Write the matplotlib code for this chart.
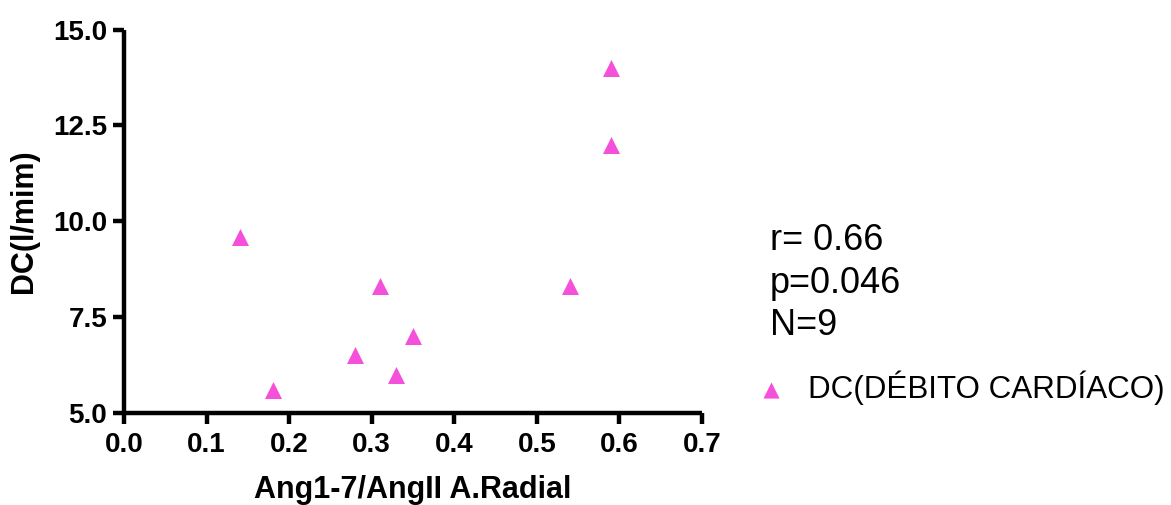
import matplotlib.pyplot as plt

# values
ratio = [0.14, 0.18, 0.28, 0.31, 0.33, 0.35, 0.54, 0.59, 0.59]
dc = [9.6, 5.6, 6.5, 8.3, 6.0, 7.0, 8.3, 12.0, 14.0]
x_ticks = [0.0, 0.1, 0.2, 0.3, 0.4, 0.5, 0.6, 0.7]
y_ticks = [5.0, 7.5, 10.0, 12.5, 15.0]
stats_text = "r= 0.66\np=0.046\nN=9"
series_name = "DC(DÉBITO CARDÍACO)"

pink = "#F550DA"
plt.rcParams["font.family"] = ["Liberation Sans", "DejaVu Sans"]

fig = plt.figure(figsize=(11.71, 5.05), dpi=100)
ax = fig.add_axes([124 / 1171, 1 - 413 / 505, (702 - 124) / 1171, (413 - 29.5) / 505])

ax.scatter(ratio, dc, marker="^", s=150, color=pink, linewidths=0, label=series_name,
           clip_on=False, zorder=3)

ax.set_xlim(0.0, 0.7)
ax.set_ylim(5.0, 15.0)
ax.set_xticks(x_ticks)
ax.set_yticks(y_ticks)
ax.set_xticklabels([f"{v:.1f}" for v in x_ticks], fontsize=20, fontweight="bold")
ax.set_yticklabels([f"{v:.1f}" for v in y_ticks], fontsize=20, fontweight="bold")
ax.tick_params(width=3.2, length=8, pad=4)
ax.tick_params(axis="x", pad=6)

for side in ["top", "right"]:
    ax.spines[side].set_visible(False)
for side in ["left", "bottom"]:
    ax.spines[side].set_linewidth(3.2)
    ax.spines[side].set_capstyle("butt")

ax.set_xlabel("Ang1-7/AngII A.Radial", fontsize=22, fontweight="bold", labelpad=12)
ax.set_ylabel("DC(l/mim)", fontsize=22, fontweight="bold", labelpad=10)

fig.text(770 / 1171, 1 - 223 / 505, stats_text, fontsize=26, va="top", ha="left",
         linespacing=1.28)

leg = fig.legend(loc="center left", bbox_to_anchor=(755 / 1171, 1 - 388 / 505),
                 frameon=False, fontsize=22.6, handlelength=1.0, handletextpad=0.7,
                 borderpad=0, borderaxespad=0, markerscale=0.95)

fig.savefig("out.png", dpi=100)
